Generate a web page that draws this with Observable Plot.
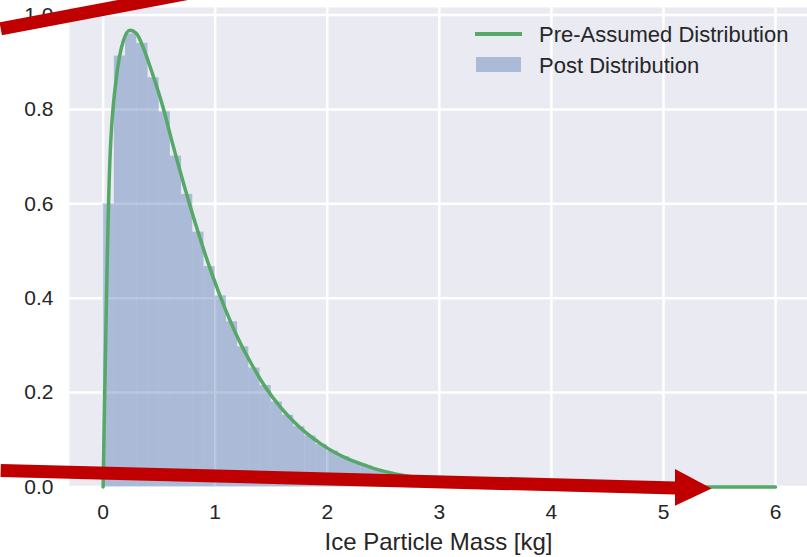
<!DOCTYPE html>
<html>
<head>
<meta charset="utf-8">
<script src="https://cdn.jsdelivr.net/npm/d3@7"></script>
<script src="https://cdn.jsdelivr.net/npm/@observablehq/plot@0.6"></script>
<style>
  html, body { margin: 0; padding: 0; background: white; }
  #wrap { position: relative; width: 807px; height: 557px; overflow: hidden; }
  #legend { position: absolute; left: 0; top: 0; font-family: "Liberation Sans", Arial, sans-serif; font-size: 22px; color: #262626; }
  .sw { position: absolute; }
  .lt { position: absolute; white-space: nowrap; line-height: 1; }
</style>
</head>
<body>
<div id="wrap"></div>
<script>
// ---------- data ----------
const xTicks = [0, 1, 2, 3, 4, 5, 6];
const yTicks = [0.0, 0.2, 0.4, 0.6, 0.8, 1.0];

// histogram ("Post Distribution"): bin edges and normalized heights
const binEdges = [0.0,0.1,0.2,0.3,0.4,0.5,0.6,0.7,0.8,0.9,1.0,1.1,1.2,1.3,1.4,1.5,1.6,1.7,1.8,1.9,2.0,
                  2.1,2.2,2.3,2.4,2.5,2.6,2.7,2.8,2.9,3.0,3.1,3.2,3.3,3.4,3.5,3.6,3.7,3.8,3.9,4.0,4.2,4.4];
const binHeights = [0.600,0.913,0.960,0.940,0.867,0.795,0.701,0.620,0.540,0.467,
                    0.405,0.350,0.297,0.252,0.215,0.180,0.152,0.128,0.108,0.090,
                    0.076,0.064,0.053,0.045,0.037,0.031,0.026,0.022,0.018,0.015,
                    0.012,0.010,0.0085,0.007,0.006,0.005,0.004,0.0033,0.0027,0.0022,
                    0.0015,0.001];

// line ("Pre-Assumed Distribution")
const curveX = [0,0.06,0.12,0.18,0.24,0.30,0.36,0.42,0.48,0.54,0.61,0.73,0.85,0.97,1.09,1.21,1.33,1.45,
                1.58,1.70,1.82,1.94,2.06,2.18,2.30,2.42,2.55,2.67,2.79,2.91,3.03,3.27,3.52,3.76,4.0,4.5,5.0,5.5,6.0];
const curveY = [0,0.690,0.870,0.945,0.968,0.960,0.930,0.890,0.847,0.800,0.736,0.633,0.538,0.452,0.377,0.312,0.258,0.211,
                0.170,0.139,0.113,0.092,0.074,0.060,0.049,0.039,0.031,0.025,0.020,0.016,0.013,0.0084,0.0053,0.0034,0.0021,0.0008,0.0003,0.0001,0.0];

// red annotation arrows (data coordinates)
const arrowTopX = [-0.914, 1.405];
const arrowTopY = [0.971, 1.075];
const arrowBottomX = [-0.914, 5.11];
const arrowBottomY = [0.035, -0.002];
const headBaseX = 5.107, headTipX = 5.434;
const headBaseLow = -0.041, headBaseHigh = 0.037, headTipY = -0.004;

const legendLabels = ["Pre-Assumed Distribution", "Post Distribution"];
const xLabel = "Ice Particle Mass [kg]";

// ---------- build ----------
const bins = binHeights.map((h, i) => ({x1: binEdges[i], x2: binEdges[i + 1], y: h}));
const curve = curveX.map((x, i) => ({x, y: curveY[i]}));
const arrowTop = arrowTopX.map((x, i) => ({x, y: arrowTopY[i]}));
const arrowBottom = arrowBottomX.map((x, i) => ({x, y: arrowBottomY[i]}));
const head = [{x: headBaseX, y1: headBaseLow, y2: headBaseHigh}, {x: headTipX, y1: headTipY, y2: headTipY}];

const green = "#55A868", blue = "#4C72B0", red = "#C00000", bg = "#EAEAF2";

const chart = Plot.plot({
  width: 807, height: 557,
  marginLeft: 69, marginRight: 0, marginTop: 7, marginBottom: 70.5,
  style: {background: "white", fontFamily: "Liberation Sans, Arial, sans-serif", color: "#262626", overflow: "visible"},
  x: {domain: [-0.3, 6.285], label: null},
  y: {domain: [0, 1.016], label: null},
  marks: [
    Plot.frame({fill: bg, stroke: null}),
    Plot.gridX(xTicks, {stroke: "white", strokeOpacity: 1, strokeWidth: 2.5}),
    Plot.gridY(yTicks, {stroke: "white", strokeOpacity: 1, strokeWidth: 2.5}),
    Plot.rectY(bins, {x1: "x1", x2: "x2", y: "y", fill: blue, fillOpacity: 0.4}),
    Plot.line(curve, {x: "x", y: "y", stroke: green, strokeWidth: 3.5, curve: "monotone-x"}),
    Plot.axisX(xTicks, {tickSize: 0, tickPadding: 17, fontSize: 21, tickFormat: d => String(d), label: null}),
    Plot.axisY(yTicks, {tickSize: 0, tickPadding: 16, fontSize: 21, tickFormat: d => d.toFixed(1), label: null}),
    Plot.text([xLabel], {frameAnchor: "bottom", lineAnchor: "middle", dy: 55, fontSize: 24, fill: "#262626"}),
    Plot.line(arrowTop, {x: "x", y: "y", stroke: red, strokeWidth: 13, strokeLinecap: "butt"}),
    Plot.line(arrowBottom, {x: "x", y: "y", stroke: red, strokeWidth: 13, strokeLinecap: "butt"}),
    Plot.areaY(head, {x: "x", y1: "y1", y2: "y2", fill: red})
  ]
});

const wrap = document.getElementById("wrap");
wrap.appendChild(chart);

// legend overlay (inside plot, upper right)
const lg = document.createElement("div");
lg.id = "legend";
lg.innerHTML = `
  <div class="sw" style="left:475px; top:32px; width:47px; height:3.5px; background:${green};"></div>
  <div class="lt" style="left:539px; top:24px;">${legendLabels[0]}</div>
  <div class="sw" style="left:476px; top:57px; width:45px; height:15px; background:${blue}; opacity:0.4;"></div>
  <div class="lt" style="left:539px; top:55px;">${legendLabels[1]}</div>`;
wrap.appendChild(lg);
</script>
</body>
</html>
